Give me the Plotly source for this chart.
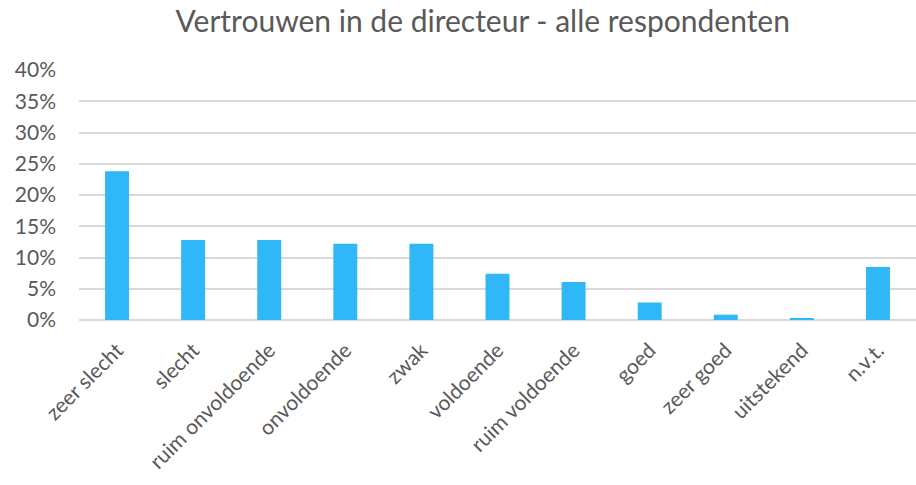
import plotly.graph_objects as go

categories = ["zeer slecht", "slecht", "ruim onvoldoende", "onvoldoende", "zwak",
              "voldoende", "ruim voldoende", "goed", "zeer goed", "uitstekend", "n.v.t."]
shares = [0.238, 0.128, 0.128, 0.122, 0.122, 0.074, 0.061, 0.028, 0.0085, 0.0026, 0.085]
y_ticks = [0, 0.05, 0.10, 0.15, 0.20, 0.25, 0.30, 0.35, 0.40]

fig = go.Figure(go.Bar(x=categories, y=shares, marker_color="#2FB7F7",
                       marker_line_width=0))

fig.update_layout(
    width=916, height=485,
    margin=dict(l=79, r=0, t=70, b=165),
    paper_bgcolor="white", plot_bgcolor="white",
    font=dict(family="Lato", color="#595959"),
    title=dict(text="Vertrouwen in de directeur - alle respondenten",
               x=0.527, xanchor="center", y=0.955, yanchor="middle",
               font=dict(size=30, color="#595959")),
    bargap=0.685,
    showlegend=False,
)
fig.update_xaxes(tickangle=-45, tickfont=dict(size=21), showgrid=False,
                 showline=False, ticks="", ticklabelstandoff=13)
fig.update_yaxes(range=[0, 0.40], tickvals=y_ticks, tickformat=".0%",
                 tickfont=dict(size=21), gridcolor="#D9D9D9", gridwidth=1.5,
                 zeroline=True, zerolinecolor="#D9D9D9", zerolinewidth=1.5,
                 showline=False, ticks="", ticklabelstandoff=22)

fig.write_html("out.html")
